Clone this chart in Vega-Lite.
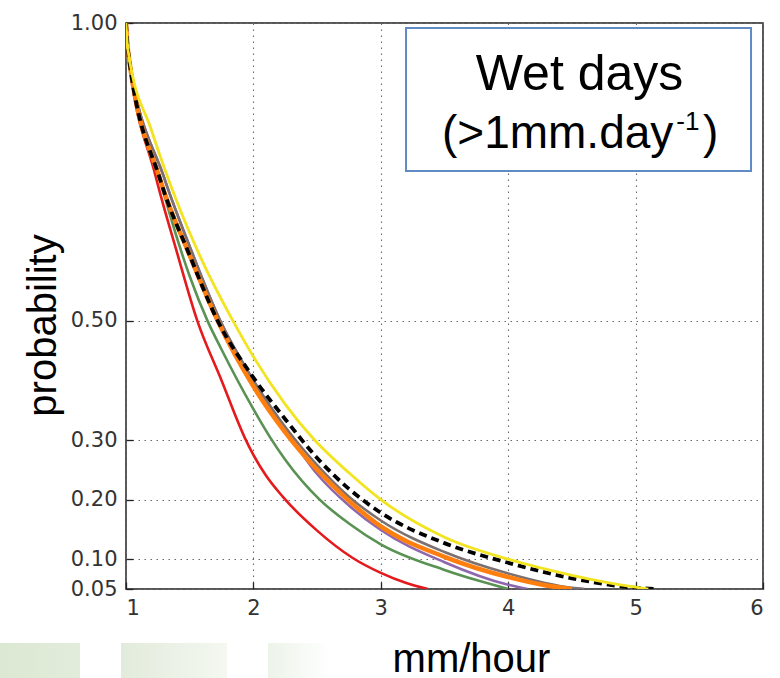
{
  "$schema": "https://vega.github.io/schema/vega-lite/v6.json",
  "width": 637,
  "height": 566,
  "autosize": {"type": "none"},
  "padding": {"left": 126, "top": 23, "right": 17, "bottom": 89},
  "background": "white",
  "config": {
    "view": {"stroke": "#222222", "strokeWidth": 1.5},
    "axis": {
      "labelFont": "DejaVu Sans",
      "labelFontSize": 21,
      "labelColor": "#333333",
      "grid": true,
      "gridDash": [1.5, 4.5],
      "gridColor": "#6a6a6a",
      "gridWidth": 1.1,
      "gridOpacity": 1,
      "domain": false,
      "ticks": true,
      "tickSize": -7,
      "tickColor": "#222222",
      "tickWidth": 1.3,
      "titleFont": "Liberation Sans",
      "titleFontWeight": "normal",
      "titleColor": "#000000",
      "titleFontSize": 40
    }
  },
  "datasets": {
    "curves": [
      {"s": "a_red", "x": 1, "p": 1}, {"s": "a_red", "x": 1.015, "p": 0.955}, {"s": "a_red", "x": 1.23, "p": 0.745}, {"s": "a_red", "x": 1.4, "p": 0.615}, {"s": "a_red", "x": 1.56, "p": 0.5}, {"s": "a_red", "x": 1.75, "p": 0.4}, {"s": "a_red", "x": 1.93, "p": 0.305}, {"s": "a_red", "x": 2, "p": 0.275}, {"s": "a_red", "x": 2.1, "p": 0.24}, {"s": "a_red", "x": 2.23, "p": 0.205}, {"s": "a_red", "x": 2.5, "p": 0.148}, {"s": "a_red", "x": 2.78, "p": 0.102}, {"s": "a_red", "x": 3, "p": 0.077}, {"s": "a_red", "x": 3.2, "p": 0.06}, {"s": "a_red", "x": 3.37, "p": 0.05},
      {"s": "b_green", "x": 1, "p": 1}, {"s": "b_green", "x": 1.015, "p": 0.955}, {"s": "b_green", "x": 1.25, "p": 0.75}, {"s": "b_green", "x": 1.5, "p": 0.575}, {"s": "b_green", "x": 1.64, "p": 0.5}, {"s": "b_green", "x": 1.75, "p": 0.452}, {"s": "b_green", "x": 2, "p": 0.352}, {"s": "b_green", "x": 2.13, "p": 0.305}, {"s": "b_green", "x": 2.25, "p": 0.267}, {"s": "b_green", "x": 2.52, "p": 0.2}, {"s": "b_green", "x": 2.75, "p": 0.16}, {"s": "b_green", "x": 3, "p": 0.125}, {"s": "b_green", "x": 3.5, "p": 0.082}, {"s": "b_green", "x": 3.75, "p": 0.065}, {"s": "b_green", "x": 4, "p": 0.05},
      {"s": "c_purple", "x": 1, "p": 1}, {"s": "c_purple", "x": 1.015, "p": 0.955}, {"s": "c_purple", "x": 1.3, "p": 0.74}, {"s": "c_purple", "x": 1.5, "p": 0.625}, {"s": "c_purple", "x": 1.74, "p": 0.5}, {"s": "c_purple", "x": 2, "p": 0.4}, {"s": "c_purple", "x": 2.25, "p": 0.318}, {"s": "c_purple", "x": 2.5, "p": 0.243}, {"s": "c_purple", "x": 2.75, "p": 0.19}, {"s": "c_purple", "x": 3, "p": 0.149}, {"s": "c_purple", "x": 3.5, "p": 0.095}, {"s": "c_purple", "x": 4, "p": 0.057}, {"s": "c_purple", "x": 4.15, "p": 0.05},
      {"s": "d_grey", "x": 1, "p": 1}, {"s": "d_grey", "x": 1.015, "p": 0.955}, {"s": "d_grey", "x": 1.3, "p": 0.74}, {"s": "d_grey", "x": 1.5, "p": 0.625}, {"s": "d_grey", "x": 1.74, "p": 0.5}, {"s": "d_grey", "x": 2, "p": 0.4}, {"s": "d_grey", "x": 2.25, "p": 0.322}, {"s": "d_grey", "x": 2.5, "p": 0.258}, {"s": "d_grey", "x": 2.75, "p": 0.205}, {"s": "d_grey", "x": 3, "p": 0.165}, {"s": "d_grey", "x": 3.5, "p": 0.112}, {"s": "d_grey", "x": 4, "p": 0.076}, {"s": "d_grey", "x": 4.5, "p": 0.052}, {"s": "d_grey", "x": 4.6, "p": 0.05},
      {"s": "e_orange", "x": 1, "p": 1}, {"s": "e_orange", "x": 1.015, "p": 0.955}, {"s": "e_orange", "x": 1.27, "p": 0.736}, {"s": "e_orange", "x": 1.5, "p": 0.61}, {"s": "e_orange", "x": 1.72, "p": 0.5}, {"s": "e_orange", "x": 2, "p": 0.39}, {"s": "e_orange", "x": 2.25, "p": 0.313}, {"s": "e_orange", "x": 2.5, "p": 0.25}, {"s": "e_orange", "x": 2.75, "p": 0.198}, {"s": "e_orange", "x": 3, "p": 0.155}, {"s": "e_orange", "x": 3.5, "p": 0.104}, {"s": "e_orange", "x": 4, "p": 0.07}, {"s": "e_orange", "x": 4.3, "p": 0.056}, {"s": "e_orange", "x": 4.5, "p": 0.05},
      {"s": "f_obs", "x": 1, "p": 1}, {"s": "f_obs", "x": 1.015, "p": 0.955}, {"s": "f_obs", "x": 1.27, "p": 0.736}, {"s": "f_obs", "x": 1.5, "p": 0.61}, {"s": "f_obs", "x": 1.72, "p": 0.5}, {"s": "f_obs", "x": 2, "p": 0.405}, {"s": "f_obs", "x": 2.25, "p": 0.335}, {"s": "f_obs", "x": 2.5, "p": 0.27}, {"s": "f_obs", "x": 2.75, "p": 0.218}, {"s": "f_obs", "x": 3, "p": 0.178}, {"s": "f_obs", "x": 3.5, "p": 0.127}, {"s": "f_obs", "x": 4, "p": 0.094}, {"s": "f_obs", "x": 4.5, "p": 0.068}, {"s": "f_obs", "x": 5, "p": 0.052}, {"s": "f_obs", "x": 5.15, "p": 0.05},
      {"s": "g_yellow", "x": 1, "p": 1}, {"s": "g_yellow", "x": 1.015, "p": 0.955}, {"s": "g_yellow", "x": 1.2, "p": 0.82}, {"s": "g_yellow", "x": 1.4, "p": 0.7}, {"s": "g_yellow", "x": 1.6, "p": 0.6}, {"s": "g_yellow", "x": 1.84, "p": 0.5}, {"s": "g_yellow", "x": 2, "p": 0.44}, {"s": "g_yellow", "x": 2.25, "p": 0.36}, {"s": "g_yellow", "x": 2.48, "p": 0.3}, {"s": "g_yellow", "x": 2.75, "p": 0.245}, {"s": "g_yellow", "x": 3, "p": 0.2}, {"s": "g_yellow", "x": 3.5, "p": 0.137}, {"s": "g_yellow", "x": 4, "p": 0.1}, {"s": "g_yellow", "x": 4.5, "p": 0.073}, {"s": "g_yellow", "x": 5, "p": 0.053}, {"s": "g_yellow", "x": 5.1, "p": 0.05}
    ]
  },
  "layer": [
    {
      "data": {"values": [{"x": 0.011, "x2": 0.639, "p": -0.0406, "p2": -0.11}]},
      "mark": {"type": "rect", "color": {"gradient": "linear", "x1": 0, "x2": 1, "y1": 0, "y2": 0, "stops": [{"offset": 0, "color": "#dbe8d2"}, {"offset": 1, "color": "#e2ecdb"}]}},
      "encoding": {
        "x": {"field": "x", "type": "quantitative", "scale": {"domain": [1, 6], "nice": false, "zero": false}, "axis": {"title": "mm/hour", "values": [1, 2, 3, 4, 5, 6], "format": "d", "labelPadding": 15, "titleX": 345, "titleY": 82, "titleBaseline": "alphabetic", "titleAlign": "center"}},
        "x2": {"field": "x2"},
        "y": {"field": "p", "type": "quantitative", "scale": {"domain": [0.05, 1], "nice": false, "zero": false}, "axis": {"title": "probability", "values": [0.05, 0.1, 0.2, 0.3, 0.5, 1], "format": ".2f", "labelPadding": 16, "titleX": -71, "titleY": 302, "titleAngle": 270, "titleBaseline": "alphabetic", "titleAlign": "center", "titleFontSize": 40}},
        "y2": {"field": "p2"}
      }
    },
    {
      "data": {"values": [{"x": 0.961, "x2": 1.793, "p": -0.0406, "p2": -0.11}]},
      "mark": {"type": "rect", "color": {"gradient": "linear", "x1": 0, "x2": 1, "y1": 0, "y2": 0, "stops": [{"offset": 0, "color": "#e2ebdb"}, {"offset": 1, "color": "#f4f8f1"}]}},
      "encoding": {
        "x": {"field": "x", "type": "quantitative"},
        "x2": {"field": "x2"},
        "y": {"field": "p", "type": "quantitative"},
        "y2": {"field": "p2"}
      }
    },
    {
      "data": {"values": [{"x": 2.115, "x2": 2.601, "p": -0.0406, "p2": -0.11}]},
      "mark": {"type": "rect", "color": {"gradient": "linear", "x1": 0, "x2": 1, "y1": 0, "y2": 0, "stops": [{"offset": 0, "color": "#ecf3e8"}, {"offset": 1, "color": "#ffffff"}]}},
      "encoding": {
        "x": {"field": "x", "type": "quantitative"},
        "x2": {"field": "x2"},
        "y": {"field": "p", "type": "quantitative"},
        "y2": {"field": "p2"}
      }
    },
    {
      "data": {"name": "curves"},
      "transform": [{"filter": "datum.s == 'a_red' || datum.s == 'b_green' || datum.s == 'c_purple' || datum.s == 'd_grey'"}],
      "mark": {"type": "line", "strokeWidth": 2.6, "interpolate": "monotone", "clip": true},
      "encoding": {
        "x": {"field": "x", "type": "quantitative"},
        "y": {"field": "p", "type": "quantitative"},
        "color": {"field": "s", "type": "nominal", "legend": null, "scale": {"domain": ["a_red", "b_green", "c_purple", "d_grey", "e_orange", "f_obs", "g_yellow"], "range": ["#e41a1c", "#5a9254", "#8e68ac", "#7d7070", "#ff7f0e", "#000000", "#f2e421"]}}
      }
    },
    {
      "data": {"name": "curves"},
      "transform": [{"filter": "datum.s == 'e_orange'"}],
      "mark": {"type": "line", "strokeWidth": 4.5, "interpolate": "monotone", "clip": true},
      "encoding": {
        "x": {"field": "x", "type": "quantitative"},
        "y": {"field": "p", "type": "quantitative"},
        "color": {"field": "s", "type": "nominal", "legend": null}
      }
    },
    {
      "data": {"name": "curves"},
      "transform": [{"filter": "datum.s == 'f_obs'"}],
      "mark": {"type": "line", "strokeWidth": 3.8, "strokeDash": [8, 5], "interpolate": "monotone", "clip": true},
      "encoding": {
        "x": {"field": "x", "type": "quantitative"},
        "y": {"field": "p", "type": "quantitative"},
        "color": {"field": "s", "type": "nominal", "legend": null}
      }
    },
    {
      "data": {"name": "curves"},
      "transform": [{"filter": "datum.s == 'g_yellow'"}],
      "mark": {"type": "line", "strokeWidth": 2.8, "interpolate": "monotone", "clip": true},
      "encoding": {
        "x": {"field": "x", "type": "quantitative"},
        "y": {"field": "p", "type": "quantitative"},
        "color": {"field": "s", "type": "nominal", "legend": null}
      }
    },
    {
      "data": {"values": [{"x": 3.198, "x2": 5.906, "p": 0.9916, "p2": 0.7516}]},
      "mark": {"type": "rect", "fill": "#ffffff", "stroke": "#5f8ac4", "strokeWidth": 2},
      "encoding": {
        "x": {"field": "x", "type": "quantitative"},
        "x2": {"field": "x2"},
        "y": {"field": "p", "type": "quantitative"},
        "y2": {"field": "p2"}
      }
    },
    {
      "data": {"values": [{"x": 4.56, "p": 0.8875, "t": "Wet days"}]},
      "mark": {"type": "text", "font": "Liberation Sans", "fontSize": 50, "align": "center", "baseline": "alphabetic", "color": "#000000"},
      "encoding": {
        "x": {"field": "x", "type": "quantitative"},
        "y": {"field": "p", "type": "quantitative"},
        "text": {"field": "t"}
      }
    },
    {
      "data": {"values": [{"x": 3.48, "p": 0.79, "t": "(>1mm.day"}, {"x": 5.53, "p": 0.79, "t": ")"}]},
      "mark": {"type": "text", "font": "Liberation Sans", "fontSize": 46, "align": "left", "baseline": "alphabetic", "color": "#000000"},
      "encoding": {
        "x": {"field": "x", "type": "quantitative"},
        "y": {"field": "p", "type": "quantitative"},
        "text": {"field": "t"}
      }
    },
    {
      "data": {"values": [{"x": 5.32, "p": 0.8204, "t": "-1"}]},
      "mark": {"type": "text", "font": "Liberation Sans", "fontSize": 26, "align": "left", "baseline": "alphabetic", "color": "#000000"},
      "encoding": {
        "x": {"field": "x", "type": "quantitative"},
        "y": {"field": "p", "type": "quantitative"},
        "text": {"field": "t"}
      }
    }
  ]
}
